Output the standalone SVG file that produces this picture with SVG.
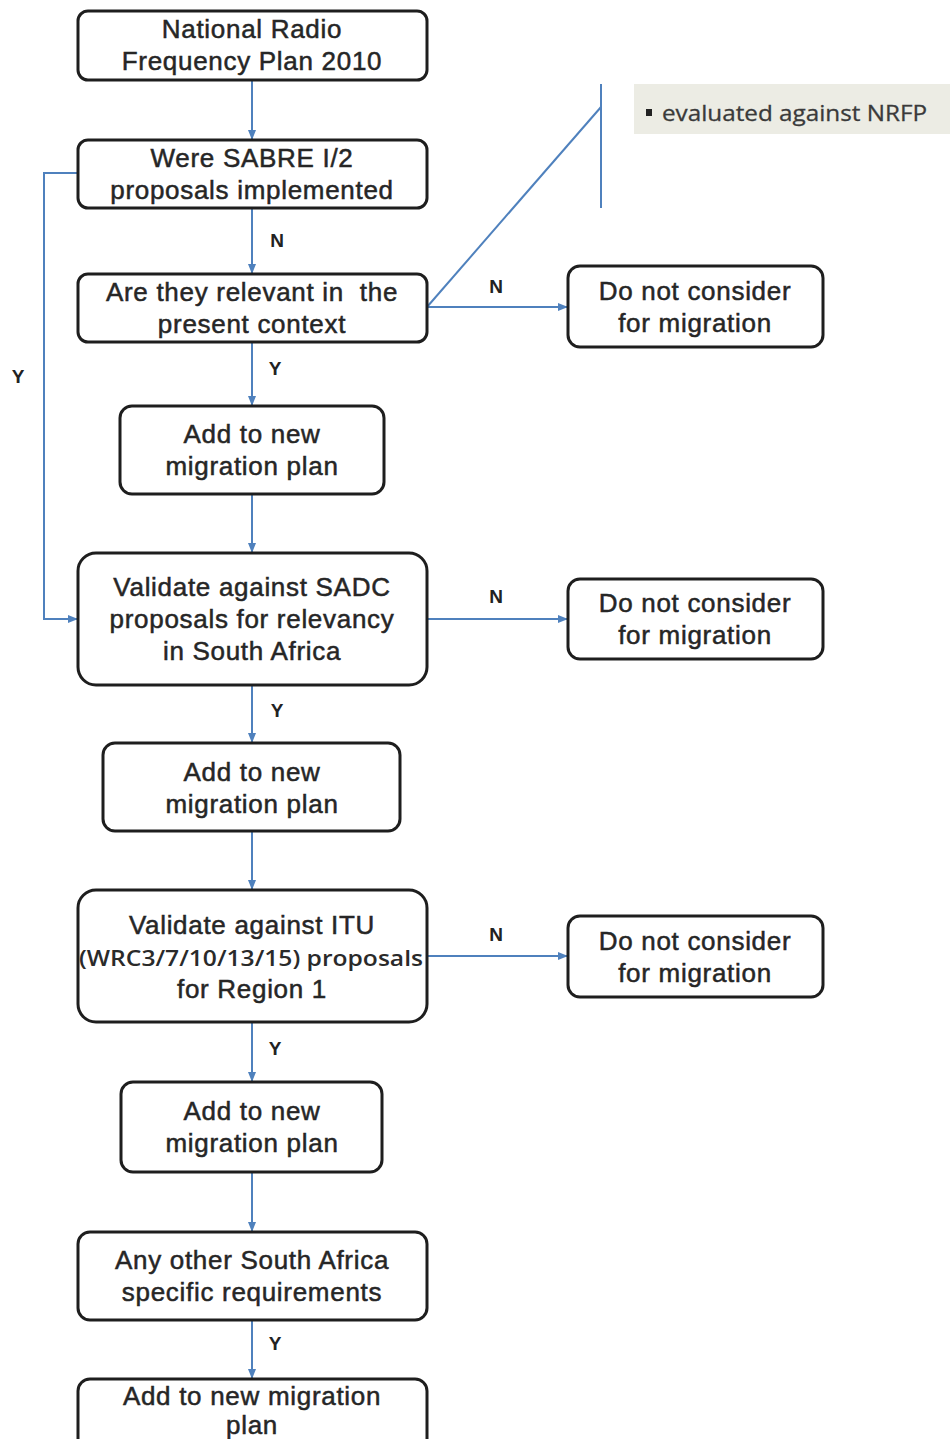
<svg xmlns="http://www.w3.org/2000/svg" width="950" height="1439" viewBox="0 0 950 1439">
<style>
.box{fill:#fff;stroke:#1e1e1e;stroke-width:3}
.t{font-family:"Liberation Sans",Arial,sans-serif;font-size:26px;letter-spacing:0.7px;fill:#262626;text-anchor:middle;stroke:#262626;stroke-width:0.5}
.lbl{font-family:"Liberation Sans",Arial,sans-serif;font-size:19px;font-weight:bold;fill:#222;text-anchor:middle}
.c{stroke:#4f81bd;stroke-width:2;fill:none}
.ca{stroke:#4f81bd;stroke-width:2;fill:none;marker-end:url(#ah)}
.note{font-family:"Open Sans","Liberation Sans",sans-serif;font-size:22px;fill:#3a3a3a;stroke:#3a3a3a;stroke-width:0.3}
</style>
<defs>
<marker id="ah" viewBox="0 0 10 10" refX="10" refY="5" markerWidth="5" markerHeight="5" orient="auto" markerUnits="strokeWidth">
<path d="M0,1 L10,5 L0,9 z" fill="#4f81bd"/>
</marker>
</defs>
<rect width="950" height="1439" fill="#fff"/>

<g id="note">
<rect x="634" y="84" width="316" height="50" fill="#ecece4"/>
<rect x="646" y="109" width="6" height="7" fill="#222"/>
<text class="note" x="662" y="121" textLength="265" lengthAdjust="spacingAndGlyphs">evaluated against NRFP</text>
</g>

<g id="connectors">
<line class="ca" x1="252" y1="80" x2="252" y2="140"/>
<line class="ca" x1="252" y1="208" x2="252" y2="274"/>
<line class="ca" x1="252" y1="342" x2="252" y2="406"/>
<line class="ca" x1="252" y1="494" x2="252" y2="553"/>
<line class="ca" x1="252" y1="685" x2="252" y2="743"/>
<line class="ca" x1="252" y1="831" x2="252" y2="890"/>
<line class="ca" x1="252" y1="1022" x2="252" y2="1082"/>
<line class="ca" x1="252" y1="1172" x2="252" y2="1232"/>
<line class="ca" x1="252" y1="1320" x2="252" y2="1379"/>
<polyline class="ca" points="78,173 44,173 44,619 78,619"/>
<line class="ca" x1="427" y1="307" x2="568" y2="307"/>
<line class="ca" x1="427" y1="619" x2="568" y2="619"/>
<line class="ca" x1="427" y1="956" x2="568" y2="956"/>
<line class="c" x1="427" y1="307" x2="601" y2="107"/>
<line class="c" x1="601" y1="84" x2="601" y2="208"/>
<text class="lbl" x="277" y="247">N</text>
<text class="lbl" x="275" y="375">Y</text>
<text class="lbl" x="18" y="383">Y</text>
<text class="lbl" x="277" y="717">Y</text>
<text class="lbl" x="275" y="1055">Y</text>
<text class="lbl" x="275" y="1350">Y</text>
<text class="lbl" x="496" y="293">N</text>
<text class="lbl" x="496" y="603">N</text>
<text class="lbl" x="496" y="941">N</text>
</g>

<g id="n1"><rect class="box" x="78" y="11" width="349" height="69" rx="10"/>
<text class="t" x="252" y="38">National Radio</text><text class="t" x="252" y="70">Frequency Plan 2010</text></g>
<g id="n2"><rect class="box" x="78" y="140" width="349" height="68" rx="10"/>
<text class="t" x="252" y="167">Were SABRE I/2</text><text class="t" x="252" y="199">proposals implemented</text></g>
<g id="n3"><rect class="box" x="78" y="274" width="349" height="68" rx="10"/>
<text class="t" x="252" y="301">Are they relevant in&#160; the</text><text class="t" x="252" y="333">present context</text></g>
<g id="n4"><rect class="box" x="120" y="406" width="264" height="88" rx="12"/>
<text class="t" x="252" y="443">Add to new</text><text class="t" x="252" y="475">migration plan</text></g>
<g id="n5"><rect class="box" x="78" y="553" width="349" height="132" rx="18"/>
<text class="t" x="252" y="596">Validate against SADC</text><text class="t" x="252" y="628">proposals for relevancy</text><text class="t" x="252" y="660">in South Africa</text></g>
<g id="n6"><rect class="box" x="103" y="743" width="297" height="88" rx="12"/>
<text class="t" x="252" y="781">Add to new</text><text class="t" x="252" y="813">migration plan</text></g>
<g id="n7"><rect class="box" x="78" y="890" width="349" height="132" rx="18"/>
<text class="t" x="252" y="934">Validate against ITU</text>
<text x="251" y="966" text-anchor="middle" font-family="Open Sans, Liberation Sans, sans-serif" font-size="22" font-weight="600" fill="#2a2a2a" textLength="344" lengthAdjust="spacingAndGlyphs">(WRC3/7/10/13/15) proposals</text>
<text class="t" x="252" y="998">for Region 1</text></g>
<g id="n8"><rect class="box" x="121" y="1082" width="261" height="90" rx="12"/>
<text class="t" x="252" y="1120">Add to new</text><text class="t" x="252" y="1152">migration plan</text></g>
<g id="n9"><rect class="box" x="78" y="1232" width="349" height="88" rx="12"/>
<text class="t" x="252" y="1269">Any other South Africa</text><text class="t" x="252" y="1301">specific requirements</text></g>
<g id="n10"><rect class="box" x="78" y="1379" width="349" height="80" rx="12"/>
<text class="t" x="252" y="1405">Add to new migration</text><text class="t" x="252" y="1434">plan</text></g>

<g id="r1"><rect class="box" x="568" y="266" width="255" height="81" rx="12"/>
<text class="t" x="695" y="300">Do not consider</text><text class="t" x="695" y="332">for migration</text></g>
<g id="r2"><rect class="box" x="568" y="579" width="255" height="80" rx="12"/>
<text class="t" x="695" y="612">Do not consider</text><text class="t" x="695" y="644">for migration</text></g>
<g id="r3"><rect class="box" x="568" y="916" width="255" height="81" rx="12"/>
<text class="t" x="695" y="950">Do not consider</text><text class="t" x="695" y="982">for migration</text></g>
</svg>
